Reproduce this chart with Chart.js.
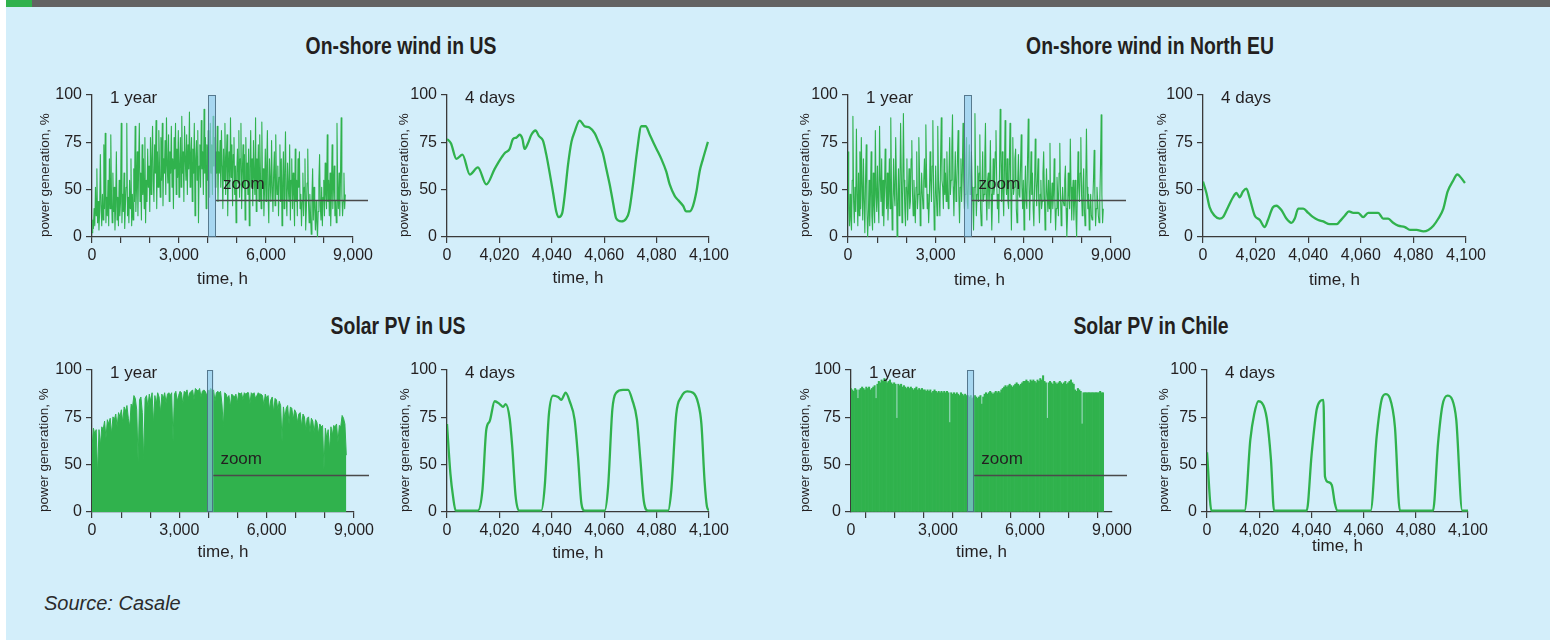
<!DOCTYPE html>
<html>
<head>
<meta charset="utf-8">
<title>Wind and solar power generation profiles</title>
<script src="https://cdn.jsdelivr.net/npm/chart.js@4.4.1/dist/chart.umd.min.js"></script>
<style>
  html, body { margin: 0; padding: 0; background: #ffffff; }
  body { width: 1550px; height: 640px; position: relative; overflow: hidden;
         font-family: "Liberation Sans", Arial, sans-serif; }
  #sheet { position: absolute; left: 6px; top: 0; width: 1544px; height: 640px; background: #d3eefa; }
  #topBar { position: absolute; left: 6px; top: 0; width: 1544px; height: 7px; background: #636363; }
  #topAccent { position: absolute; left: 6px; top: 0; width: 26px; height: 7px; background: #30b24d; }
  .panelTitle { position: absolute; transform: translate(-50%, -50%) scale(0.97, 1.15); white-space: nowrap;
                font-family: "Liberation Sans", Arial, sans-serif;
                font-weight: bold; font-size: 20px; color: #231f20; }
  #source { position: absolute; left: 44px; top: 603px; transform: translateY(-50%);
            font-style: italic; font-size: 20px; color: #2b2b2b; white-space: nowrap; }
  canvas { position: absolute; }
</style>
</head>
<body>
<div id="sheet"></div>
<div id="topBar"></div>
<div id="topAccent"></div>
<div class="panelTitle" style="left:401px;top:47px">On-shore wind in US</div>
<div class="panelTitle" style="left:1150px;top:47px">On-shore wind in North EU</div>
<div class="panelTitle" style="left:398px;top:327px">Solar PV in US</div>
<div class="panelTitle" style="left:1151px;top:327px">Solar PV in Chile</div>
<div id="source">Source: Casale</div>

<script>
// ---- axis ticks ----
const yTickValues = [0, 100 / 3, 200 / 3, 100];
const yTickLabels = ['0', '50', '75', '100'];
const yearTickValues = [0, 1000, 2000, 3000, 4000, 5000, 6000, 7000, 8000, 9000];
const yearTickLabels = ['0', '', '', '3,000', '', '', '6,000', '', '', '9,000'];
const dayTickValues = [4000, 4020, 4040, 4060, 4080, 4100];
const dayTickLabels = ['0', '4,020', '4,040', '4,060', '4,080', '4,100'];

// ---- one-year wind series, one reading every 24 h ----
const windStepHours = 24;
const usWindYear = [3,12,6,20,8,35,15,48,10,25,5,18,58,22,8,30,12,65,20,73,10,28,
  15,40,8,55,20,72,30,10,45,18,35,5,22,60,12,28,8,40,15,
  25,80,10,30,18,45,6,22,35,80,15,28,10,40,20,55,8,30,12,48,25,78,18,
  35,60,15,50,80,25,45,12,65,30,55,20,70,10,40,25,62,35,50,18,70,
  30,55,78,40,25,65,45,82,20,60,35,75,50,28,70,40,80,22,55,45,68,30,84,50,38,72,25,60,45,78,35,55,20,70,48,80,30,62,42,75,28,
  50,70,35,85,45,60,25,78,55,40,72,30,65,48,88,35,58,70,25,62,45,80,15,55,68,40,75,10,50,65,35,82,48,60,30,90,45,70,20,65,
  40,75,55,28,80,45,65,30,85,50,70,35,60,45,78,
  25,60,45,68,35,75,50,20,62,40,80,30,55,72,15,48,60,35,84,42,65,22,58,70,30,50,10,45,62,38,75,28,55,80,20,45,65,35,58,12,
  70,40,52,30,62,8,48,75,35,55,22,68,42,30,84,18,55,40,65,25,72,45,20,81,35,
  48,15,35,62,25,50,75,30,10,55,40,25,68,35,18,45,60,22,72,40,30,50,15,42,65,25,55,8,38,60,20,45,74,30,15,52,35,25,65,12,
  40,55,20,45,30,8,62,25,40,15,55,35,60,20,30,
  8,25,45,15,35,55,5,20,38,62,25,10,30,15,2,28,48,12,35,20,5,25,10,0,18,40,58,22,12,35,8,28,40,15,52,30,20,
  72,25,40,15,45,8,30,65,20,35,50,15,25,10,80,35,20,45,15,40,84,30,15,25,45,20,30];
const euWindYear = [60,20,8,30,12,5,40,85,25,10,35,18,
  76,30,8,45,15,60,20,70,35,12,55,25,3,40,65,20,0,15,40,8,30,60,15,5,45,22,10,
  75,30,18,50,25,10,78,40,25,55,15,40,8,30,62,35,20,45,12,30,55,20,
  84,35,5,20,55,30,22,70,40,0,25,48,15,35,80,45,10,30,87,40,20,8,35,55,
  12,30,48,20,25,55,68,30,15,40,25,10,35,60,20,30,70,45,8,25,45,30,20,40,55,35,79,45,20,30,10,25,60,40,
  25,50,82,35,5,20,50,30,15,78,40,30,15,55,84,40,35,20,55,30,45,25,60,35,
  20,45,70,30,40,60,86,35,15,40,60,25,35,55,75,30,10,35,55,25,45,80,40,20,
  30,55,70,25,20,45,65,30,40,60,35,25,
  5,35,87,40,15,30,50,25,45,72,20,8,35,60,25,30,55,80,30,12,40,45,20,35,68,30,5,25,55,30,35,60,75,40,20,30,
  10,45,90,55,25,60,30,15,45,82,40,30,55,25,20,50,80,35,5,40,70,30,35,55,62,20,10,40,58,30,28,50,72,35,20,40,
  5,30,50,25,20,55,83,40,12,35,60,30,45,20,8,35,69,40,22,40,55,25,10,30,40,20,25,45,60,30,5,25,48,30,18,40,20,66,
  10,25,38,20,30,55,25,5,20,42,30,15,45,66,30,8,20,35,25,22,40,50,20,0,15,45,30,20,69,35,12,30,40,
  12,25,40,15,0,30,60,35,25,45,70,30,15,35,48,20,8,40,76,35,20,30,
  5,20,30,15,12,25,40,61,30,8,20,35,25,15,10,25,50,86,30,10,20];

// ---- one-year solar series, daily peak every 48 h ----
const solarStepHours = 48;
const usSolarYear = [45,59,55,58, 26, 58,47,60,58,64,52,65,62, 66,55,67,65,69,60,70,67,
  72,63,74,71,75,66,60,76,74,82, 80,72,35,79,81,70,36,80,82,74,
  83,78,84,62,82,76,84,81,70,83,80,84,77,83,84, 82,84,50,83,85,78,82,85,84,76,85,84,86,80,84,
  85,86,79,87,86,85,87,81,85,86,85,82, 86,85,87,85,86,78,84,85,
  84,85,76,60,84,83,80,82,74,83,82,81,83,77,84, 83,84,79,84,83,84,84,76,84,83,84,80,82,84,83,
  83,82,75,83,80,82,72,79,81,70,80,79,72,78,75, 50,74,66,73,75,62,74,73,65,72,
  70,63,69,70,60,69,67,58,66,67,56,66,64,56,65, 63,55,62,60,61,30,59,52,58,43,60,54,61,60,62,
  49,61,60,68,66,62,40];
const chileSolarYear = [87,86,85,87,86,80,86,87,88,87,86,88,87,88,86,87,88,89,80,90,92,91,93,92,94,93,91,92,93,91,
  90,91,90,66,90,89,90,88,89,88,87,88,87,88,87,86,87,88,86,87,86,87,86,86,85,86,85,86,84,85,86,85,84,85,84,85,84,
  85,84,85,84,63,84,83,84,83,84,83,82,84,83,82,83,82,82,81,82,80,81,82,81,80,81,82,76,81,83,84,83,84,85,84,83,84,
  85,84,85,84,86,87,88,89,88,89,90,89,88,89,90,91,90,89,90,91,92,92,93,92,91,93,92,93,92,91,93,92,94,93,96,92,91,
  66,91,92,91,90,92,91,90,91,92,91,90,91,92,90,91,92,93,91,90,86,85,87,86,85,62,84,84,84,84,84,84,84,84,84,84,84,
  84,85,84,84];

// ---- four-day series (hour, value) ----
const usWindDayHours = [4000,4001.5,4003.6,4005.9,4008.7,4011.8,4015,4018.2,4020.1,4022,4023.9,4025.2,4026.5,4027.7,
  4028.8,4029.6,4030.9,4032.2,4033.8,4035.1,4036.6,4037.9,4039.2,4040.5,4041.7,4042.7,4044,4044.9,4046.2,4047.5,
  4048.7,4050.6,4052.5,4054.5,4056.4,4057.6,4059.5,4060.8,4062.1,4063.4,4064.6,4066.5,4068.4,4069.5,4071,4072.5,
  4074.2,4075.8,4077.4,4078.9,4080.5,4081.8,4083.7,4085,4086.9,4088.2,4090.1,4091.3,4092.6,4093.9,4095.2,4096.4,
  4097.7,4099.6];
const usWindDayValues = [69,66,55,58,44,49,37,48,54,59,62,69,70,72,69,62,66,72,75,71,68,58,45,31,18,14,17,29,51,67,
  74,82,78,77,73,68,59,48,37,24,13,11,13,18,37,60,78,78,72,66,60,55,46,37,29,26,22,18,18,22,32,46,55,67];
const euWindDayHours = [4000,4001.3,4002.5,4004.4,4006.3,4007.6,4009.5,4011.4,4012.7,4013.9,4015.2,4016.5,4017.8,
  4019.7,4021.6,4023.5,4024.7,4026.6,4027.9,4029.8,4031.7,4033.6,4034.9,4036.2,4038.1,4040,4041.9,4043.8,4045.7,
  4048.2,4050.8,4052,4053.9,4055.5,4057.1,4059,4060.9,4062.8,4064.1,4066.6,4068.5,4070.4,4072.3,4074.2,4076.8,
  4078.7,4081.2,4083.8,4085.7,4087.6,4089.5,4091.4,4093,4094.9,4096.7,4098.4,4099.6];
const euWindDayValues = [39,31,21,15,13,14,21,28,31,28,32,34,27,15,12,7,12,21,22,19,13,10,13,20,20,17,14,12,11,9,
  9,11,15,18,17,17,14,17,17,17,13,13,10,8,7,5,5,4,5,8,13,20,32,39,44,41,38];
const usSolarDayHours = [4000,4001.3,4002.3,4003.3,4011.8,4013.5,4015,4016.3,4018.2,4020.1,4021.4,4022.4,4023.9,
  4024.9,4026.2,4027.5,4036,4037.3,4038.9,4040.5,4042.4,4043.6,4045.3,4046.8,4048.7,4050,4051.3,4052.5,4060.2,
  4061.5,4063.1,4064.6,4067.2,4069.1,4070.7,4072.5,4073.8,4075.1,4076.7,4084.4,4085.6,4087.5,4089.4,4091.7,4093.9,
  4095.8,4097.1,4098.3,4099.2,4100];
const usSolarDayValues = [62,27,11,1,1,15,58,64,78,76,74,76,66,46,11,1,1,18,69,82,81,79,84,78,65,39,6,1,1,18,72,84,
  86,86,79,65,37,8,1,1,15,69,81,85,84,77,62,22,4,1];
const chileSolarDayHours = [4000,4001.7,4014.4,4016.6,4018.1,4019.7,4021,4022.9,4024.5,4025.7,4038.2,4040.1,4042,
  4043.3,4044.6,4045.2,4046.5,4047.8,4049,4049.9,4062.7,4065,4066.9,4068.4,4070.1,4072,4073.9,4086.6,4088.5,
  4090.2,4092.1,4094,4095.5,4097.8,4100];
const chileSolarDayValues = [42,1,1,51,69,78,77,66,37,1,1,41,72,78,79,25,21,19,6,1,1,53,79,83,80,60,1,1,48,75,82,79,
  65,1,1];

// ---- styling ----
const GREEN = '#30b24d';
const AXIS = '#3a3a3a';
const INK = '#231f20';
const FAMILY = '"Liberation Sans", Arial, sans-serif';
Chart.defaults.font.family = FAMILY;
Chart.defaults.color = INK;

function stepPoints(values, step) {
  return values.map((v, i) => ({ x: i * step, y: v }));
}
function dayPoints(hours, values) {
  return hours.map((h, i) => ({ x: h, y: values[i] }));
}

// frame label, shaded zoom window and its pointer line
const panelMarks = {
  id: 'panelMarks',
  afterDatasetsDraw(chart, args, opts) {
    const { ctx, chartArea: a, scales: { x, y } } = chart;
    ctx.save();
    if (opts.zoom) {
      const x0 = x.getPixelForValue(opts.zoom[0]);
      const x1 = x.getPixelForValue(opts.zoom[1]);
      const yt = y.getPixelForValue(100), yb = y.getPixelForValue(0);
      ctx.fillStyle = 'rgba(140,200,235,0.62)';
      ctx.fillRect(x0, yt, x1 - x0, yb - yt);
      ctx.strokeStyle = 'rgba(70,105,125,0.85)';
      ctx.lineWidth = 1;
      ctx.strokeRect(Math.round(x0) + 0.5, yt + 0.5, Math.round(x1 - x0) - 1, yb - yt - 1);
      const ly = Math.round(y.getPixelForValue(26.4)) + 0.5;
      ctx.strokeStyle = '#4a4a4a';
      ctx.lineWidth = 1.3;
      ctx.beginPath();
      ctx.moveTo(x1, ly);
      ctx.lineTo(a.right + 15, ly);
      ctx.stroke();
      ctx.fillStyle = INK;
      ctx.font = '17px ' + FAMILY;
      ctx.textBaseline = 'middle';
      ctx.textAlign = 'left';
      ctx.fillText('zoom', x1 + 7, y.getPixelForValue(37));
    }
    ctx.fillStyle = INK;
    ctx.font = '17px ' + FAMILY;
    ctx.textBaseline = 'middle';
    ctx.textAlign = 'left';
    ctx.fillText(opts.label, a.left + 18, a.top + 3);
    ctx.restore();
  }
};

const panels = [
  { area: [92, 95, 353, 237], kind: 'year', style: 'wind', values: usWindYear, step: windStepHours, zoom: [4010, 4275], xGap: 42, yGap: 47 },
  { area: [447, 95, 709, 237], kind: 'day', hours: usWindDayHours, values: usWindDayValues, xGap: 41, yGap: 43 },
  { area: [848, 95, 1111, 237], kind: 'year', style: 'wind', values: euWindYear, step: windStepHours, zoom: [3970, 4230], xGap: 43, yGap: 43 },
  { area: [1203, 95, 1466, 237], kind: 'day', hours: euWindDayHours, values: euWindDayValues, xGap: 43, yGap: 41 },
  { area: [92, 370, 354, 512], kind: 'year', style: 'area', values: usSolarYear, step: solarStepHours, zoom: [3950, 4170], xGap: 40, yGap: 48 },
  { area: [447, 370, 709, 512], kind: 'day', hours: usSolarDayHours, values: usSolarDayValues, xGap: 41, yGap: 42 },
  { area: [851, 370, 1112, 512], kind: 'year', style: 'bars', values: chileSolarYear, step: solarStepHours, zoom: [4000, 4250], xGap: 40, yGap: 46 },
  { area: [1207, 370, 1468, 512], kind: 'day', hours: chileSolarDayHours, values: chileSolarDayValues, xGap: 34, yGap: 43 }
];

function buildPanel(p) {
  const padL = 62, padT = 14, padR = 34, padB = 62;
  const [l, t, r, b] = p.area;
  const W = r - l + padL + padR, H = b - t + padT + padB;
  const cv = document.createElement('canvas');
  cv.width = W; cv.height = H;
  cv.style.left = (l - padL) + 'px';
  cv.style.top = (t - padT) + 'px';
  cv.style.width = W + 'px';
  cv.style.height = H + 'px';
  document.body.appendChild(cv);

  const isYear = p.kind === 'year';
  let type = 'line';
  let dataset;
  if (isYear) {
    const pts = stepPoints(p.values, p.step);
    if (p.style === 'wind') {
      dataset = { data: pts, borderColor: GREEN, borderWidth: 1.1, pointRadius: 0, tension: 0, borderJoinStyle: 'round', fill: false };
    } else if (p.style === 'area') {
      dataset = { data: pts, borderColor: GREEN, backgroundColor: GREEN, borderWidth: 1, pointRadius: 0, tension: 0, borderJoinStyle: 'round', fill: 'origin' };
    } else {
      type = 'bar';
      dataset = { data: pts, backgroundColor: GREEN, borderWidth: 0, barPercentage: 1, categoryPercentage: 1 };
    }
  } else {
    dataset = { data: dayPoints(p.hours, p.values), borderColor: GREEN, borderWidth: 2.3, pointRadius: 0,
                tension: 0.4, cubicInterpolationMode: 'monotone', borderJoinStyle: 'round', fill: false };
  }

  const xTicks = isYear ? yearTickValues : dayTickValues;
  const xLabels = isYear ? yearTickLabels : dayTickLabels;

  new Chart(cv, {
    type,
    data: { datasets: [dataset] },
    options: {
      responsive: false,
      animation: false,
      devicePixelRatio: 1,
      events: [],
      layout: { padding: { left: 0, top: padT, right: padR, bottom: 0 } },
      plugins: {
        legend: { display: false },
        tooltip: { enabled: false },
        panelMarks: { label: isYear ? '1 year' : '4 days', zoom: p.zoom || null }
      },
      scales: {
        x: {
          type: 'linear',
          offset: false,
          min: isYear ? 0 : 4000,
          max: isYear ? 9000 : 4100,
          afterBuildTicks: s => { s.ticks = xTicks.map(v => ({ value: v })); },
          afterFit: s => { s.height = padB; },
          ticks: { autoSkip: false, maxRotation: 0, minRotation: 0, padding: 3,
                   font: { size: 16 }, color: INK, callback: (v, i) => xLabels[i] },
          grid: { drawOnChartArea: false, drawTicks: true, tickLength: 6, color: AXIS, lineWidth: 1.2 },
          border: { display: true, color: AXIS, width: 1.3 },
          title: { display: true, text: 'time, h', color: INK, font: { size: 17 },
                   padding: { top: 0, bottom: padB - 10.2 - p.xGap } }
        },
        y: {
          type: 'linear',
          min: 0,
          max: 100,
          afterBuildTicks: s => { s.ticks = yTickValues.map(v => ({ value: v })); },
          afterFit: s => { s.width = padL; },
          ticks: { autoSkip: false, padding: 4, font: { size: 16 }, color: INK,
                   callback: (v, i) => yTickLabels[i] },
          grid: { drawOnChartArea: false, drawTicks: true, tickLength: 6, color: AXIS, lineWidth: 1.2 },
          border: { display: true, color: AXIS, width: 1.3 },
          title: { display: true, text: 'power generation, %', color: INK, font: { size: 13.5 },
                   align: 'start', padding: { top: padL - 8.1 - p.yGap, bottom: 0 } }
        }
      }
    },
    plugins: [panelMarks]
  });
}

panels.forEach(buildPanel);
</script>
</body>
</html>
